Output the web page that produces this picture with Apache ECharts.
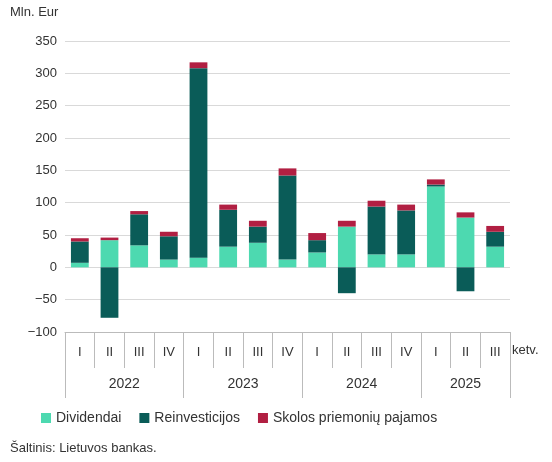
<!DOCTYPE html>
<html><head><meta charset="utf-8">
<script src="https://cdn.jsdelivr.net/npm/echarts@6/dist/echarts.min.js"></script>
<style>html,body{margin:0;padding:0;background:#fff}#c{width:552px;height:462px}</style>
</head><body><div id="c"></div>
<script>
const quarters = ['I','II','III','IV','I','II','III','IV','I','II','III','IV','I','II','III'];
const years = ['2022','2023','2024','2025'];
const dividendai = [7,42,34,12,15,32,38,12,23,63,20,20,125,77,32];
const reinvesticijos = [33,-78,48,36,293,57,25,130,19,-40,74,68,3,-37,23];
const skolos = [5,4,5,7,9,8,9,11,11,9,9,9,8,8,9];
const yTicks = [-100,-50,0,50,100,150,200,250,300,350];

const font = 'Liberation Sans, Arial, sans-serif';
const chart = echarts.init(document.getElementById('c'));
chart.setOption({
  animation:false,
  textStyle:{fontFamily:font},
  grid:{left:65,right:42,top:41,bottom:130},
  legend:{bottom:32,left:36,itemWidth:10,itemHeight:10,itemGap:18,icon:'rect',
    textStyle:{fontSize:14,color:'#333',fontFamily:font}},
  graphic:[
    {type:'text',left:10,top:6,style:{text:'Mln. Eur',fontSize:13,fill:'#333',fontFamily:font}},
    {type:'text',left:10,top:442,style:{text:'Šaltinis: Lietuvos bankas.',fontSize:13,fill:'#333',fontFamily:font}},
    {type:'text',left:512,top:344,style:{text:'ketv.',fontSize:13,fill:'#333',fontFamily:font}}
  ],
  xAxis:[
    {type:'category',data:quarters,position:'bottom',
     axisLine:{onZero:false,lineStyle:{color:'#bbb'}},
     axisTick:{show:true,interval:0,length:36,lineStyle:{color:'#bbb'}},
     axisLabel:{interval:0,margin:14,fontSize:13,color:'#333'}},
    {type:'value',min:0,max:15,position:'bottom',
     axisLine:{show:false,onZero:false},splitLine:{show:false},
     axisTick:{show:true,length:66,customValues:[0,4,8,12,15],lineStyle:{color:'#bbb'}},
     axisLabel:{customValues:[2,6,10,13.5],margin:45,fontSize:14,color:'#333',
       formatter:v=>({2:years[0],6:years[1],10:years[2],13.5:years[3]})[v]||''}}
  ],
  yAxis:{type:'value',min:yTicks[0],max:yTicks[yTicks.length-1],interval:50,
    axisLine:{show:false},axisTick:{show:false},
    axisLabel:{fontSize:13,color:'#333',formatter:v=>v<0?'−'+Math.abs(v):v},
    splitLine:{lineStyle:{color:'#d9d9d9'}}},
  series:[
    {name:'Dividendai',type:'bar',stack:'a',data:dividendai,barWidth:'60%',itemStyle:{color:'#4dd9b0'}},
    {name:'Reinvesticijos',type:'bar',stack:'a',data:reinvesticijos,itemStyle:{color:'#0a5c58'}},
    {name:'Skolos priemonių pajamos',type:'bar',stack:'a',data:skolos,itemStyle:{color:'#b11f42'}}
  ]
});
</script></body></html>
